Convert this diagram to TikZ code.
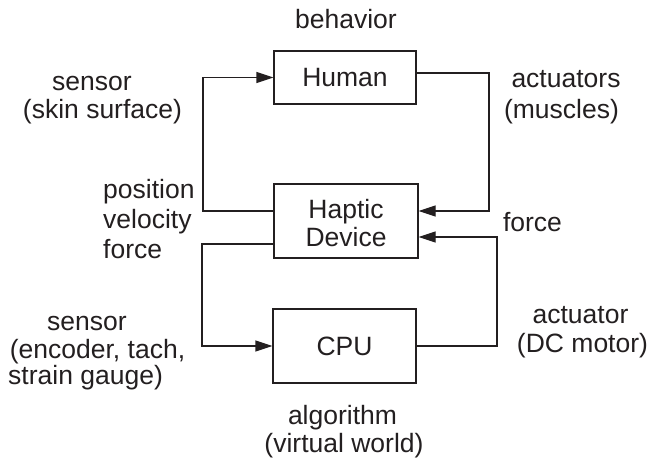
\documentclass[tikz,border=0pt]{standalone}
\usepackage{fontspec}
\setmainfont{Liberation Sans}
\usetikzlibrary{arrows.meta}
\definecolor{ink}{HTML}{231F20}
\begin{document}
\begin{tikzpicture}[x=1pt,y=1pt,
  every node/.style={font=\fontsize{26.5}{28}\selectfont, text=ink},
  blk/.style={draw=ink, line width=1.3pt, inner sep=0pt, align=center},
  lbl/.style={inner sep=0pt, anchor=base},
  lbll/.style={inner sep=0pt, anchor=base west},
  wire/.style={draw=ink, line width=1.3pt},
  arr/.style={wire, -{Triangle[length=17pt,width=11pt]}}]
\useasboundingbox (0,0) rectangle (650,-460);
% blocks
\node[blk, minimum width=142pt, minimum height=53pt] (hum) at (345,-77.5) {Human};
\node[blk, minimum width=144pt, minimum height=74pt] (hap) at (346,-221) {\rule{0pt}{24pt}Haptic\\Device};
\node[blk, minimum width=143pt, minimum height=74pt] (cpu) at (344.5,-346) {CPU};
% corner coordinates
\coordinate (c1) at (203,-211);
\coordinate (c2) at (203,-77.5);
\coordinate (c3) at (489,-73);
\coordinate (c4) at (489,-211);
\coordinate (c5) at (497,-346);
\coordinate (c6) at (497,-237);
\coordinate (c7) at (202,-244);
\coordinate (c8) at (202,-346);
% connectors
\draw[arr] (hap.west |- c1) -- (c1) -- (c2) -- (hum.west);
\draw[arr] (hum.east |- c3) -- (c3) -- (c4) -- (hap.east |- c4);
\draw[arr] (cpu.east) -- (c5) -- (c6) -- (hap.east |- c6);
\draw[arr] (hap.west |- c7) -- (c7) -- (c8) -- (cpu.west);
% labels
\node[lbl] (tbeh) at (346,-29) {behavior};
\node[lbl] (ts1) at (92,-90) {sensor};
\node[lbl] (ts2) at (102.5,-118) {(skin surface)};
\node[lbl] (ta1) at (566,-88) {actuators};
\node[lbl] (ta2) at (561.5,-118) {(muscles)};
\node[lbll] (tp1) at (103,-198) {position};
\node[lbll] (tp2) at (103,-228) {velocity};
\node[lbll] (tp3) at (103,-258) {force};
\node[lbl] (tf) at (532.5,-231) {force};
\node[lbl] (tb1) at (87,-330) {sensor};
\node[lbl] (tb2) at (97.5,-358) {(encoder, tach,};
\node[lbll] (tb3) at (8,-384) {strain gauge)};
\node[lbl] (tc1) at (580.5,-323) {actuator};
\node[lbl] (tc2) at (582.5,-352) {(DC motor)};
\node[lbl] (tal1) at (342.5,-424) {algorithm};
\node[lbl] (tal2) at (344,-452) {(virtual world)};
\end{tikzpicture}
\end{document}
